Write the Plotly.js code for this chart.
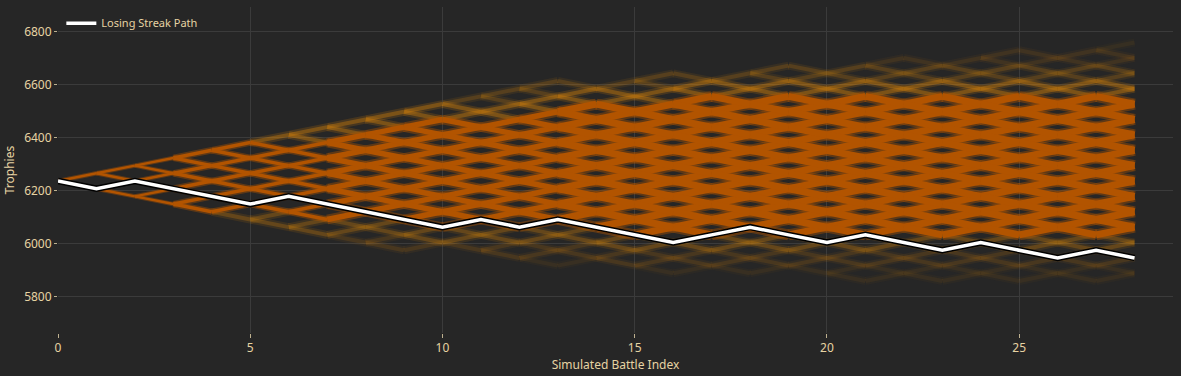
<!DOCTYPE html>
<html>
<head>
<meta charset="utf-8">
<script src="https://cdn.plot.ly/plotly-3.0.1.min.js"></script>
<style>
html,body{margin:0;padding:0;background:#262626;}
#chart{width:1181px;height:376px;}
</style>
</head>
<body>
<div id="chart"></div>
<script>
// ---- data ----
const battles = [0,1,2,3,4,5,6,7,8,9,10,11,12,13,14,15,16,17,18,19,20,21,22,23,24,25,26,27,28];
const startTrophies = 6237;
const trophyStep = 29;            // trophies won / lost per battle
const losingStreakPath = [6237,6208,6237,6208,6179,6150,6179,6150,6121,6092,6063,6092,6063,6092,6063,6034,6005,6034,6063,6034,6005,6034,6005,5976,6005,5976,5947,5976,5947];
// envelope of the simulated paths (trophies), per battle index
const denseTop    = [6237,6266,6295,6324,6353,6382,6390,6410,6430,6445,6470,6480,6500,6512,6525,6530,6540,6548,6555,6560,6565,6568,6570,6570,6570,6568,6565,6560,6555];
const denseBottom = [6237,6208,6179,6150,6121,6140,6120,6105,6095,6085,6070,6065,6060,6055,6050,6045,6040,6040,6040,6040,6040,6040,6040,6040,6040,6040,6040,6040,6040];
const faintTop    = [6237,6266,6295,6324,6353,6382,6411,6440,6469,6498,6527,6556,6585,6600,6615,6625,6640,6650,6660,6670,6680,6690,6700,6708,6715,6722,6728,6732,6745];
const faintBottom = [6237,6208,6179,6150,6121,6092,6063,6034,6005,5990,5975,5960,5945,5930,5915,5900,5895,5890,5885,5880,5875,5870,5868,5865,5862,5860,5857,5855,5850];
const xTickVals = [0,5,10,15,20,25];
const yTickVals = [5800,6000,6200,6400,6600,6800];
const legendLabel = 'Losing Streak Path';

// ---- build the lattice of simulated battle outcomes ----
const tol = trophyStep / 2;
function nodeValue(n){ return startTrophies + trophyStep * n; }
// returns [tier, side] ; tier -1 = not drawn, 0 = dense; side +1 above, -1 below
function nodeTier(k, n){
  const v = nodeValue(n);
  if (v > faintTop[k] + tol || v < faintBottom[k] - tol) return [-1, 0];
  if (v <= denseTop[k] + tol && v >= denseBottom[k] - tol) return [0, 0];
  if (v > denseTop[k] + tol) return [Math.ceil((v - (denseTop[k] + tol)) / (2*trophyStep)), 1];
  return [Math.ceil(((denseBottom[k] - tol) - v) / (2*trophyStep)), -1];
}
const denseGroups = [
  {from:0, to:2, w:2.5, halo:2},
  {from:3, to:6, w:3.5, halo:3},
  {from:7, to:12, w:5.5, halo:4},
  {from:13, to:27, w:7, halo:4}
];
const fringeAlpha = [0, 0.38, 0.2, 0.11, 0.07, 0.045];
const sideFactor = {'1':1, '-1':0.7};
const denseSeg = denseGroups.map(()=>({x:[],y:[]}));
const fringeSeg = {'1':fringeAlpha.map(()=>({x:[],y:[]})), '-1':fringeAlpha.map(()=>({x:[],y:[]}))};
for (let i = 0; i < battles.length - 1; i++){
  const k = battles[i], k2 = battles[i+1];
  for (let n = -k; n <= k; n += 2){
    const [t1, s1] = nodeTier(k, n);
    if (t1 < 0) continue;
    for (const dn of [1,-1]){
      const [t2, s2] = nodeTier(k2, n+dn);
      if (t2 < 0) continue;
      const tier = Math.max(t1, t2);
      let seg;
      if (tier === 0){
        const gi = denseGroups.findIndex(g => k >= g.from && k <= g.to);
        seg = denseSeg[gi];
      } else {
        const side = (s1 || s2) > 0 ? '1' : '-1';
        seg = fringeSeg[side][Math.min(tier, fringeAlpha.length-1)];
      }
      seg.x.push(k, k2, null);
      seg.y.push(nodeValue(n), nodeValue(n+dn), null);
    }
  }
}

const traces = [];
for (const side of ['1','-1']){
  for (let t = fringeAlpha.length-1; t >= 1; t--){
    const a = fringeAlpha[t]*sideFactor[side];
    traces.push({type:'scatter', mode:'lines', x:fringeSeg[side][t].x, y:fringeSeg[side][t].y,
      line:{color:`rgba(210,130,10,${a*0.5})`, width:8}, hoverinfo:'skip', showlegend:false});
    traces.push({type:'scatter', mode:'lines', x:fringeSeg[side][t].x, y:fringeSeg[side][t].y,
      line:{color:`rgba(210,130,10,${a})`, width:4}, hoverinfo:'skip', showlegend:false});
  }
}
denseGroups.forEach((g,i)=>{
  traces.push({type:'scatter', mode:'lines', x:denseSeg[i].x, y:denseSeg[i].y,
    line:{color:'rgba(178,84,0,0.4)', width:g.w+g.halo}, hoverinfo:'skip', showlegend:false});
  traces.push({type:'scatter', mode:'lines', x:denseSeg[i].x, y:denseSeg[i].y,
    line:{color:'rgb(178,84,0)', width:g.w}, hoverinfo:'skip', showlegend:false});
});
traces.push({type:'scatter', mode:'lines', x:battles, y:losingStreakPath,
  line:{color:'#000000', width:6.5}, hoverinfo:'skip', showlegend:false});
traces.push({type:'scatter', mode:'lines', x:battles, y:losingStreakPath, name:legendLabel,
  line:{color:'#ffffff', width:3.5}, showlegend:true});

const textColor = '#e6d3a3';
const gridColor = '#3b3b3b';
const layout = {
  width:1181, height:376,
  paper_bgcolor:'#262626', plot_bgcolor:'#262626',
  margin:{l:58, r:8, t:7, b:43},
  font:{family:'"Noto Sans", "Open Sans", sans-serif', color:textColor, size:12},
  showlegend:true,
  legend:{x:0.003, y:0.995, xanchor:'left', yanchor:'top', bgcolor:'rgba(0,0,0,0)',
    font:{size:11, color:textColor}, itemwidth:30},
  xaxis:{range:[0,29], tickvals:xTickVals, showgrid:true, gridcolor:gridColor, gridwidth:1,
    zeroline:false, showline:false, ticks:'outside', ticklen:4, tickcolor:'#bdb08f',
    tickfont:{size:12, color:textColor},
    title:{text:'Simulated Battle Index', font:{size:12, color:textColor}, standoff:4}},
  yaxis:{range:[5664,6893], tickvals:yTickVals, showgrid:true, gridcolor:gridColor, gridwidth:1,
    zeroline:false, showline:false, ticks:'outside', ticklen:3, tickcolor:'#bdb08f',
    tickfont:{size:12, color:textColor},
    title:{text:'Trophies', font:{size:12, color:textColor}, standoff:6}}
};
Plotly.newPlot('chart', traces, layout, {displayModeBar:false, staticPlot:true});
</script>
</body>
</html>
